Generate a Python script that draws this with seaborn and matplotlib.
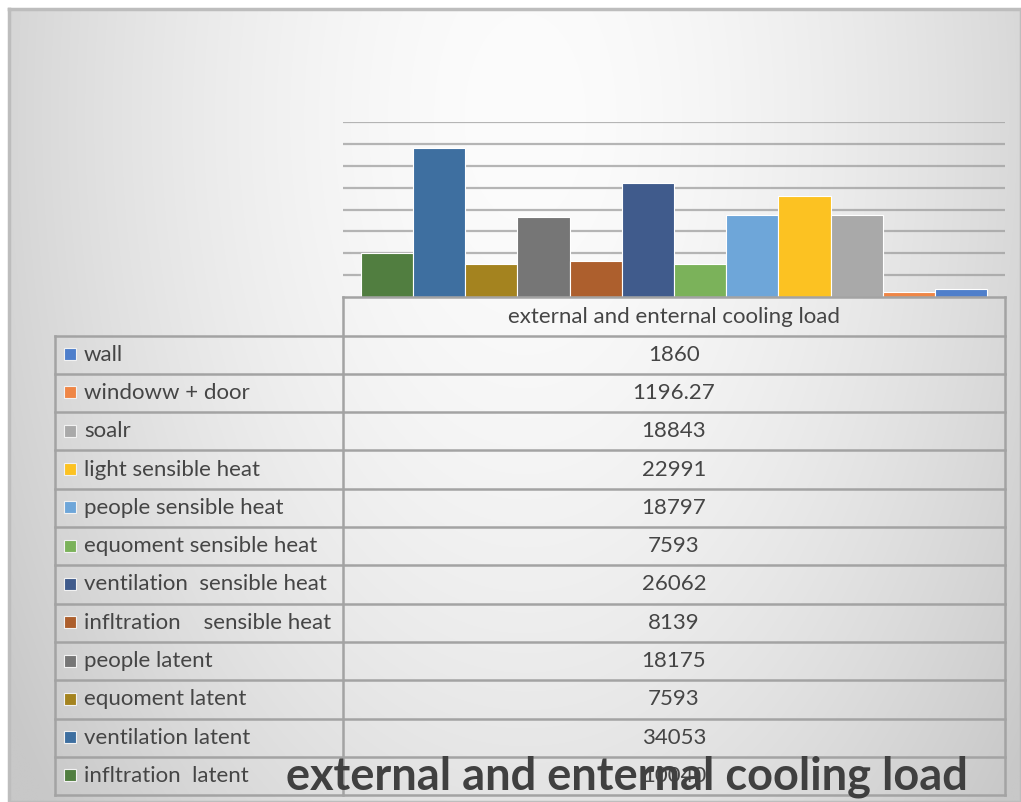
import numpy as np
import pandas as pd
import matplotlib
matplotlib.use("Agg")
import matplotlib.pyplot as plt
import seaborn as sns

# Cooling load components (table order, top to bottom)
items = [
    "wall",
    "windoww + door",
    "soalr",
    "light sensible heat",
    "people sensible heat",
    "equoment sensible heat",
    "ventilation  sensible heat",
    "infltration    sensible heat",
    "people latent",
    "equoment latent",
    "ventilation latent",
    "infltration  latent",
]
values = [1860, 1196.27, 18843, 22991, 18797, 7593, 26062, 8139, 18175, 7593, 34053, 10040]
value_labels = ["1860", "1196.27", "18843", "22991", "18797", "7593", "26062",
                "8139", "18175", "7593", "34053", "10040"]
colors = ["#4f7fcb", "#ef8646", "#a9a9a9", "#fcc222", "#6ea6d9", "#7bb25a",
          "#405b8c", "#ad5f2d", "#767676", "#a4831f", "#3e6fa0", "#517e40"]
category = "external and enternal cooling load"
title = "external and enternal cooling load"

W, H = 1021, 802
fig = plt.figure(figsize=(W / 100, H / 100), dpi=100)
fig.patch.set_facecolor("white")

# soft radial background inside the chart frame
bg = fig.add_axes([0, 0, 1, 1])
bg.set_xlim(0, W)
bg.set_ylim(H, 0)
bg.axis("off")
yy, xx = np.mgrid[0:H, 0:W]
r = np.sqrt(((xx - 520) / 520.0) ** 2 + ((yy - 110) / 900.0) ** 2)
gray = np.clip(252 - 38 * r ** 1.7, 200, 255) / 255.0
img = np.dstack([gray, gray, gray])
bg.imshow(img, extent=[9, W, H, 9], zorder=0, aspect="auto")
bg.plot([9, W, W, 9, 9], [9, 9, H, H, 9], color="#bdbdbd", lw=2.5, zorder=1)

def fx(px):
    return px / W

def fy(py):
    return 1 - py / H

# bar chart area
x0, x1, ytop, ybase = 343, 1005, 122, 297
ax = fig.add_axes([fx(x0), fy(ybase), fx(x1) - fx(x0), fy(ytop) - fy(ybase)])
ax.patch.set_alpha(0)

bar_order = items[::-1]
df = pd.DataFrame({"group": [category] * len(items), "item": items, "value": values})
palette = dict(zip(items, colors))
sns.barplot(data=df, x="group", y="value", hue="item", hue_order=bar_order,
            palette=palette, saturation=1, width=0.946, dodge=True, legend=False,
            edgecolor="white", linewidth=0.8, ax=ax, zorder=3)
ax.set_xlim(-0.5, 0.5)
ax.set_ylim(0, 40000)
ax.set_yticks(np.arange(5000, 40001, 5000))
ax.yaxis.grid(True, color="#9e9e9e", lw=1.6, alpha=0.75, zorder=0)
ax.set_axisbelow(True)
ax.set_xlabel("")
ax.set_ylabel("")
ax.set_xticks([])
ax.tick_params(left=False, labelleft=False)
for s in ax.spines.values():
    s.set_visible(False)

# data table below the bars
tab = fig.add_axes([0, 0, 1, 1])
tab.set_xlim(0, W)
tab.set_ylim(H, 0)
tab.axis("off")
lc, lw = "#a3a3a3", 1.8
row0, rowh = 335.5, 38.3
nrows = len(items)
ybot = row0 + nrows * rowh
tab.plot([x0, x1], [ybase, ybase], color=lc, lw=lw)
for i in range(nrows + 1):
    y = row0 + i * rowh
    tab.plot([55, x1], [y, y], color=lc, lw=lw)
tab.plot([55, 55], [row0, ybot], color=lc, lw=lw)
tab.plot([x0, x0], [ybase, ybot], color=lc, lw=lw)
tab.plot([x1, x1], [ybase, ybot], color=lc, lw=lw)

font = "Lato"
txt = "#454545"
fs = 16
tab.text((x0 + x1) / 2, (ybase + row0) / 2 + 1, category, ha="center", va="center",
         fontsize=fs, color=txt, family=font)
for i, (name, lab, col) in enumerate(zip(items, value_labels, colors)):
    yc = row0 + (i + 0.5) * rowh
    tab.add_patch(plt.Rectangle((63.5, yc - 6.5), 12, 12, facecolor=col,
                                edgecolor="#f2f2f2", lw=0.8))
    tab.text(84, yc, name, ha="left", va="center", fontsize=fs, color=txt,
             family=font)
    tab.text((x0 + x1) / 2, yc, lab, ha="center", va="center", fontsize=fs,
             color=txt, family=font)

tab.text(627, 777, title, ha="center", va="center", fontsize=32.5, fontweight="bold",
         color="#404040", family=font)

fig.savefig("out.png", dpi=100)
